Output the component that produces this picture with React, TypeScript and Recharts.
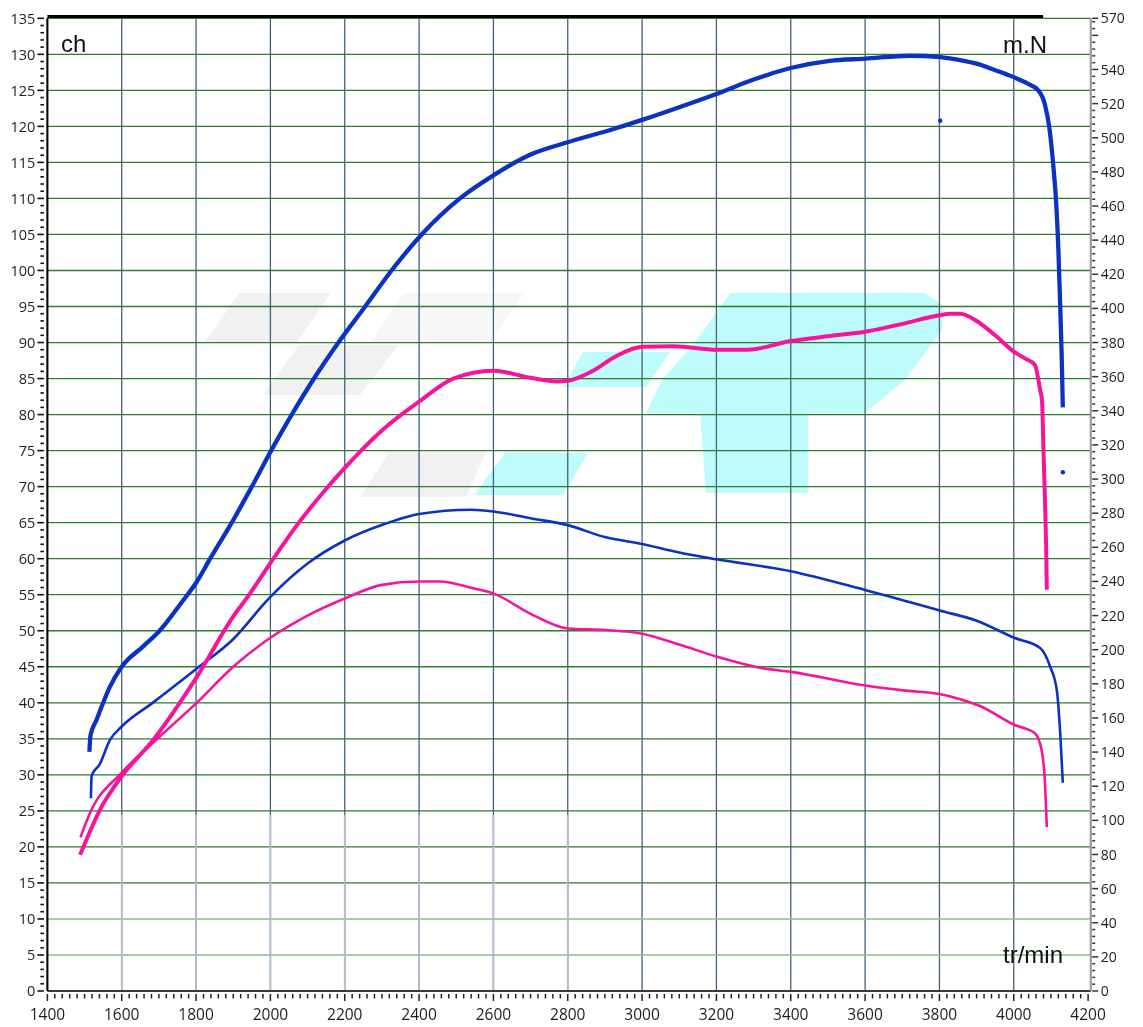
import React from 'react';
import {
  ComposedChart,
  Line,
  XAxis,
  YAxis,
  CartesianGrid,
  ReferenceLine,
  Scatter,
} from 'recharts';

// ---------- axis tick labels ----------
const rpmMajorTicks = [1400, 1600, 1800, 2000, 2200, 2400, 2600, 2800, 3000, 3200, 3400, 3600, 3800, 4000, 4200];
const chMajorTicks = [0, 5, 10, 15, 20, 25, 30, 35, 40, 45, 50, 55, 60, 65, 70, 75, 80, 85, 90, 95, 100, 105, 110, 115, 120, 125, 130, 135];
const nmMajorTicks = [0, 20, 40, 60, 80, 100, 120, 140, 160, 180, 200, 220, 240, 260, 280, 300, 320, 340, 360, 380, 400, 420, 440, 460, 480, 500, 520, 540, 570];
const rpmMinorStep = 20;
const chMinorStep = 1;
const nmMinorStep = 4;

// ---------- tuned power (ch) ----------
const tunedPowerRpm = [1513, 1516, 1532, 1550, 1568, 1600, 1657, 1702, 1765, 1802, 1838, 1896, 1950, 2002, 2053, 2116, 2183, 2255, 2326, 2407, 2510, 2600, 2700, 2800, 2921, 3000, 3102, 3200, 3300, 3400, 3505, 3600, 3721, 3802, 3856, 3900, 3950, 4001, 4035, 4066, 4084, 4096, 4107, 4114, 4120, 4125, 4129, 4132];
const tunedPowerCh = [33.2, 35.5, 37.6, 40, 42.2, 45, 47.8, 50, 54.2, 56.8, 60, 65, 70, 75, 79.6, 84.9, 90, 95, 100, 105, 110, 113.2, 116.1, 117.8, 119.6, 120.9, 122.7, 124.5, 126.5, 128.1, 129.1, 129.4, 129.8, 129.6, 129.2, 128.7, 127.8, 126.8, 126, 125, 123, 119.7, 114.2, 109.5, 103, 95, 88, 81];

// ---------- stock power (ch) ----------
const stockPowerRpm = [1488, 1505, 1541, 1600, 1684, 1802, 1899, 1943, 2008, 2075, 2147, 2200, 2300, 2400, 2492, 2600, 2700, 2770, 2800, 2865, 2930, 3000, 3085, 3200, 3283, 3400, 3505, 3600, 3710, 3800, 3830, 3856, 3900, 3950, 4001, 4030, 4057, 4071, 4076, 4080, 4084, 4087, 4089];
const stockPowerCh = [18.9, 21, 25.1, 29.8, 34.8, 43.6, 51.9, 55, 60, 64.9, 69.5, 72.6, 77.8, 81.8, 85, 86.1, 85.1, 84.6, 84.7, 86, 88.1, 89.4, 89.5, 89, 89, 90.2, 90.9, 91.5, 92.7, 93.8, 94, 94, 93, 91, 88.7, 87.8, 86.9, 83.4, 82, 75, 68.1, 62, 55.7];

// ---------- tuned torque (m.N) ----------
const tunedTorqueRpm = [1517, 1519, 1541, 1568, 1600, 1684, 1802, 1899, 2000, 2100, 2200, 2305, 2400, 2540, 2600, 2700, 2800, 2900, 3000, 3100, 3200, 3400, 3600, 3800, 3900, 4001, 4071, 4098, 4116, 4125, 4132];
const tunedTorqueNm = [113, 126, 133, 147, 155, 169, 189, 206, 231, 250.5, 264, 273.5, 279.5, 282, 281, 277, 273, 266, 262, 257, 253, 246, 235, 223, 217, 207, 201, 190, 176, 151, 122];

// ---------- stock torque (m.N) ----------
const stockTorqueRpm = [1489, 1514, 1600, 1702, 1802, 1900, 2000, 2100, 2200, 2300, 2400, 2455, 2545, 2600, 2700, 2800, 2900, 3000, 3100, 3200, 3327, 3400, 3600, 3710, 3800, 3856, 3909, 4001, 4057, 4075, 4084, 4089];
const stockTorqueNm = [90, 104, 128, 149, 169, 190, 207, 220, 230, 238, 240, 240, 236, 233, 221, 212.4, 211.5, 209.4, 203, 196, 189, 187, 179, 176, 174, 171, 167, 156, 151, 141, 122, 96];

// ---------- stray markers ----------
const markerRpm = [3802, 4132];
const markerNm = [510, 304];

// ---------- builders ----------
const toPoints = (xs: number[], ys: number[]) => xs.map((x, i) => ({ rpm: x, v: ys[i] }));
const range = (from: number, to: number, step: number) => {
  const out: number[] = [];
  for (let v = from; v <= to + 1e-9; v += step) out.push(Math.round(v * 100) / 100);
  return out;
};

const tunedPowerData = toPoints(tunedPowerRpm, tunedPowerCh);
const stockPowerData = toPoints(stockPowerRpm, stockPowerCh);
const tunedTorqueData = toPoints(tunedTorqueRpm, tunedTorqueNm);
const stockTorqueData = toPoints(stockTorqueRpm, stockTorqueNm);
const markerData = toPoints(markerRpm, markerNm);

const rpmAllTicks = range(rpmMajorTicks[0], rpmMajorTicks[rpmMajorTicks.length - 1], rpmMinorStep);
const chAllTicks = range(chMajorTicks[0], chMajorTicks[chMajorTicks.length - 1], chMinorStep);
const nmAllTicks = [...range(0, 568, nmMinorStep), 570];

const gridRpm = rpmMajorTicks.filter((r) => r > 1400 && r < 4200);
const gridCh = chMajorTicks.filter((c) => c > 10 && c < 135);
const lightGridCh = [5, 10];
const lightBottomRpm = [1600, 1800, 2000, 2200, 2400, 2600, 2800];

const BLUE = '#0b33c2';
const PINK = '#f5149b';
const TICK_FONT = '"Open Sans", "Noto Sans", sans-serif';
const LABEL_FONT = '"Liberation Sans", Arial, sans-serif';

const LeftTick = (props: any) => {
  const { x, y, payload } = props;
  const v = payload.value;
  const major = chMajorTicks.includes(v);
  return (
    <g>
      <line x1={x - 3.5} x2={major ? x - 10 : x - 7} y1={y} y2={y} stroke="#111" strokeWidth={1.6} />
      {major && (
        <text x={x - 12} y={y} dy="0.36em" textAnchor="end" fontSize={14.5} fill="#1e1e1e" fontFamily={TICK_FONT}>
          {v}
        </text>
      )}
    </g>
  );
};

const RightTick = (props: any) => {
  const { x, y, payload } = props;
  const v = payload.value;
  const major = v % 20 === 0 || v === 570;
  const labelled = nmMajorTicks.includes(v);
  return (
    <g>
      <line x1={x + 1.5} x2={major ? x + 7.5 : x + 4.5} y1={y} y2={y} stroke="#333" strokeWidth={1.5} />
      {labelled && (
        <text x={x + 10} y={y} dy="0.36em" textAnchor="start" fontSize={14} fill="#1e1e1e" fontFamily={TICK_FONT}>
          {v}
        </text>
      )}
    </g>
  );
};

const BottomTick = (props: any) => {
  const { x, y, payload } = props;
  const v = payload.value;
  const major = rpmMajorTicks.includes(v);
  return (
    <g>
      <line x1={x} x2={x} y1={y + 3} y2={major ? y + 10 : y + 7.5} stroke="#222" strokeWidth={1.5} />
      {major && (
        <text x={x} y={y + 29} textAnchor="middle" fontSize={15.5} fill="#1e1e1e" fontFamily={TICK_FONT}>
          {v}
        </text>
      )}
    </g>
  );
};

// faint background logo (decoration only)
const Watermark = () => (
  <svg width={1135} height={1019} style={{ position: 'absolute', left: 0, top: 0, zIndex: 0 }}>
    <g transform="translate(-8,-8)">
      <g fill="#efefef" opacity={0.85}>
        <polygon points="239,293 331,293 297,342 205,342" />
        <polygon points="299,345 399,345 360,395 263,395" />
        <polygon points="403,293 524,293 490,343 370,343" opacity={0.6} />
        <polygon points="389,452 486,452 466,497 360,497" />
      </g>
      <g fill="#bdfcfa">
        <polygon points="505,453 588,453 563,495 474,495" />
        <polygon points="583,352 670,352 646,387 563,387" />
        <polygon points="730,293 925,293 942,305 942,330 905,380 865,413 808,413 808,493 706,493 700,413 646,413 662,380 697,340" />
      </g>
    </g>
  </svg>
);

const Overlay = () => (
  <svg width={1135} height={1019} style={{ position: 'absolute', left: 0, top: 0, zIndex: 2, pointerEvents: 'none' }}>
    <text x={53} y={44} fontSize={24} fill="#111" fontFamily={LABEL_FONT}>ch</text>
    <text x={1039} y={45} fontSize={24} fill="#111" fontFamily={LABEL_FONT} textAnchor="end">m.N</text>
    <text x={1055} y={955} fontSize={24} fill="#111" fontFamily={LABEL_FONT} textAnchor="end">tr/min</text>
  </svg>
);

export default function App() {
  return (
    <div style={{ position: 'relative', width: 1135, height: 1019, background: '#fff' }}>
      <Watermark />
      <div style={{ position: 'absolute', left: 0, top: 0, zIndex: 1 }}>
        <ComposedChart width={1135} height={1019} margin={{ top: 10.3, right: 12.3, bottom: 6, left: 0 }}>
          <XAxis
            xAxisId="x"
            type="number"
            dataKey="rpm"
            domain={[1400, 4207]}
            allowDataOverflow
            ticks={rpmAllTicks}
            interval={0}
            tickSize={0}
            tickMargin={0}
            tickLine={false}
            tick={(p: any) => <BottomTick {...p} />}
            axisLine={{ stroke: '#3a3a3a', strokeWidth: 2 }}
            height={30}
          />
          <XAxis xAxisId="gx" orientation="top" type="number" dataKey="rpm" domain={[1400, 4207]} allowDataOverflow ticks={gridRpm} height={0} hide />
          <YAxis
            yAxisId="left"
            type="number"
            domain={[0, 135]}
            allowDataOverflow
            ticks={chAllTicks}
            interval={0}
            tickSize={0}
            tickMargin={0}
            tickLine={false}
            tick={(p: any) => <LeftTick {...p} />}
            axisLine={{ stroke: '#000', strokeWidth: 2 }}
            width={39.4}
          />
          <YAxis yAxisId="gy" type="number" domain={[0, 135]} allowDataOverflow ticks={gridCh} width={0} hide />
          <YAxis
            yAxisId="right"
            orientation="right"
            type="number"
            domain={[0, 570]}
            allowDataOverflow
            ticks={nmAllTicks}
            interval={0}
            tickSize={0}
            tickMargin={0}
            tickLine={false}
            tick={(p: any) => <RightTick {...p} />}
            axisLine={{ stroke: '#9a9a9a', strokeWidth: 2 }}
            width={40}
          />

          <CartesianGrid xAxisId="gx" yAxisId="gy" horizontal={false} vertical stroke="#46627a" strokeWidth={1.3} />
          <CartesianGrid xAxisId="gx" yAxisId="gy" horizontal vertical={false} stroke="#2f7b2f" strokeWidth={1.3} />

          {lightGridCh.map((c) => (
            <ReferenceLine key={'lc' + c} xAxisId="x" yAxisId="left" y={c} stroke="#86bf86" strokeWidth={1.5} />
          ))}
          {lightBottomRpm.map((r) => (
            <ReferenceLine
              key={'lr' + r}
              xAxisId="x"
              yAxisId="left"
              segment={[{ x: r, y: 0 }, { x: r, y: 24.4 }]}
              stroke="#b3c0cc"
              strokeWidth={1.8}
            />
          ))}
          <ReferenceLine
            xAxisId="x"
            yAxisId="left"
            segment={[{ x: 1400, y: 135.25 }, { x: 4079, y: 135.25 }]}
            ifOverflow="visible"
            stroke="#000"
            strokeWidth={3}
          />

          <Line xAxisId="x" yAxisId="right" data={stockTorqueData} dataKey="v" type="monotone" stroke={PINK} strokeWidth={2.6} dot={false} activeDot={false} isAnimationActive={false} />
          <Line xAxisId="x" yAxisId="right" data={tunedTorqueData} dataKey="v" type="monotone" stroke={BLUE} strokeWidth={2.6} dot={false} activeDot={false} isAnimationActive={false} />
          <Line xAxisId="x" yAxisId="left" data={stockPowerData} dataKey="v" type="monotone" stroke={PINK} strokeWidth={4} dot={false} activeDot={false} isAnimationActive={false} />
          <Line xAxisId="x" yAxisId="left" data={tunedPowerData} dataKey="v" type="monotone" stroke={BLUE} strokeWidth={4.3} dot={false} activeDot={false} isAnimationActive={false} />
          <Scatter
            xAxisId="x"
            yAxisId="right"
            data={markerData}
            dataKey="v"
            fill={BLUE}
            isAnimationActive={false}
            shape={(p: any) => <circle cx={p.cx} cy={p.cy} r={2.2} fill={BLUE} />}
          />
        </ComposedChart>
      </div>
      <Overlay />
    </div>
  );
}
